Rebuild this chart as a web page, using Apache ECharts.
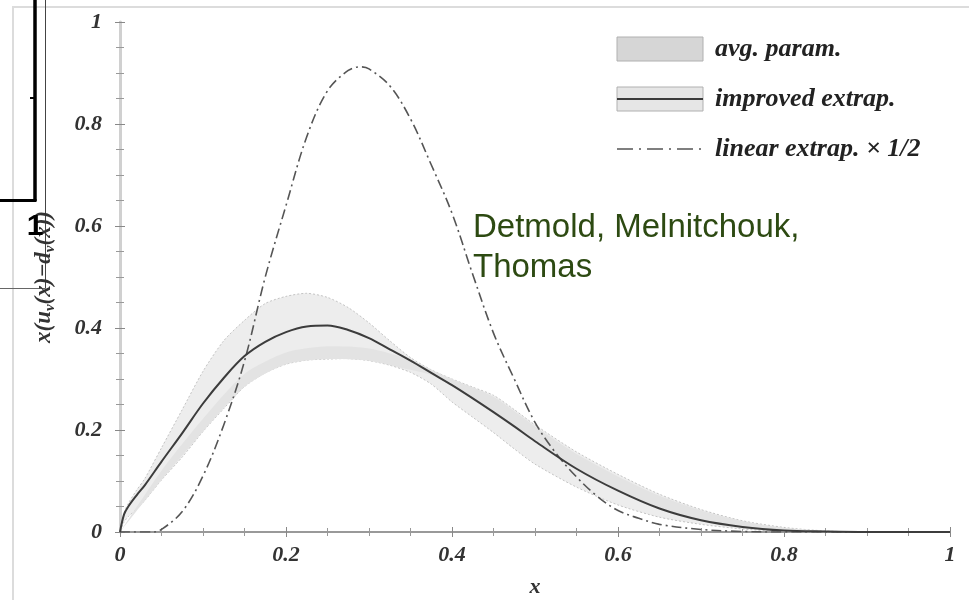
<!DOCTYPE html>
<html>
<head>
<meta charset="utf-8">
<script src="https://cdn.jsdelivr.net/npm/echarts@6/dist/echarts.min.js"></script>
<style>html,body{margin:0;padding:0;background:#fff}#c{width:969px;height:600px}</style>
</head>
<body>
<div id="c"></div>
<script>
// ---- data ----
const xs = [0, 0.005, 0.01, 0.02, 0.03, 0.05, 0.075, 0.1, 0.125, 0.15, 0.175, 0.2, 0.225, 0.25, 0.275, 0.3, 0.325, 0.35, 0.375, 0.4, 0.425, 0.45, 0.475, 0.5, 0.55, 0.6, 0.65, 0.7, 0.75, 0.8, 0.85, 0.9, 0.95, 1];
const improved = [0, 0.035, 0.05, 0.072, 0.092, 0.138, 0.194, 0.252, 0.302, 0.345, 0.373, 0.392, 0.403, 0.405, 0.396, 0.38, 0.358, 0.336, 0.312, 0.288, 0.262, 0.235, 0.207, 0.178, 0.124, 0.081, 0.046, 0.023, 0.01, 0.003, 0.001, 0, 0, 0];
const bandUpper = [0, 0.038, 0.056, 0.082, 0.105, 0.165, 0.24, 0.315, 0.375, 0.415, 0.448, 0.462, 0.468, 0.46, 0.44, 0.41, 0.375, 0.342, 0.318, 0.3, 0.284, 0.268, 0.24, 0.21, 0.157, 0.113, 0.074, 0.044, 0.022, 0.009, 0.002, 0, 0, 0];
const bandLower = [0, 0.02, 0.03, 0.045, 0.062, 0.102, 0.147, 0.197, 0.242, 0.285, 0.312, 0.329, 0.337, 0.339, 0.34, 0.336, 0.327, 0.313, 0.29, 0.255, 0.225, 0.195, 0.163, 0.133, 0.088, 0.053, 0.029, 0.015, 0.006, 0.001, 0, 0, 0, 0];

const avgX = [0, 0.05, 0.1, 0.15, 0.2, 0.25, 0.3, 0.35, 0.375, 0.4, 0.45, 0.5, 0.55, 0.6, 0.65, 0.7, 0.75, 0.8, 0.85];
const avgLower = [0, 0.102, 0.197, 0.285, 0.329, 0.339, 0.336, 0.318, 0.308, 0.288, 0.235, 0.178, 0.124, 0.081, 0.046, 0.023, 0.01, 0.003, 0];
const avgUpper = [0, 0.12, 0.222, 0.31, 0.352, 0.364, 0.36, 0.338, 0.318, 0.3, 0.265, 0.207, 0.153, 0.109, 0.071, 0.042, 0.021, 0.008, 0.002];

const linearX = [0, 0.04, 0.05, 0.075, 0.1, 0.125, 0.15, 0.175, 0.2, 0.225, 0.25, 0.275, 0.29, 0.3, 0.325, 0.35, 0.375, 0.4, 0.425, 0.45, 0.475, 0.5, 0.525, 0.55, 0.575, 0.6, 0.625, 0.65, 0.7, 0.75, 0.8, 0.9, 1];
const linearHalf = [0, 0, 0.005, 0.04, 0.11, 0.21, 0.335, 0.5, 0.64, 0.775, 0.865, 0.905, 0.912, 0.908, 0.875, 0.81, 0.72, 0.625, 0.505, 0.39, 0.3, 0.215, 0.155, 0.108, 0.07, 0.042, 0.027, 0.015, 0.005, 0.001, 0, 0, 0];

const legendNames = ['avg. param.', 'improved extrap.', 'linear extrap. \u00d7 1/2'];
const annotation = 'Detmold, Melnitchouk,\nThomas';

// ---- chart ----
const SERIF = '"Liberation Serif", "DejaVu Serif", serif';
const chart = echarts.init(document.getElementById('c'), null, {renderer: 'canvas'});

function band(name, bx, lo, hi, fill, stroke, z) {
  return {
    type: 'custom', name: name, silent: true, z: z,
    xAxisIndex: 0, yAxisIndex: 0,
    data: [[0.5, 0.5]],
    renderItem: function (params, api) {
      const pts = [];
      for (let i = 0; i < bx.length; i++) pts.push(api.coord([bx[i], hi[i]]));
      for (let i = bx.length - 1; i >= 0; i--) pts.push(api.coord([bx[i], lo[i]]));
      return {type: 'polygon', shape: {points: pts, smooth: 0.25},
        style: {fill: fill, stroke: stroke, lineWidth: 1, lineDash: [2, 2]}};
    }
  };
}

const labelStyle = {fontFamily: SERIF, fontStyle: 'italic', fontWeight: 'bold', fontSize: 22, color: '#333'};

function mainAxisCommon(extra) {
  return Object.assign({
    type: 'value', min: 0, max: 1, interval: 0.2,
    splitLine: {show: false},
    axisLine: {show: true, lineStyle: {color: '#7a7a7a', width: 1.5}},
    axisTick: {show: true, inside: true, length: 5, lineStyle: {color: '#888', width: 1}},
    minorTick: {show: true, splitNumber: 4, length: 4, lineStyle: {color: '#999', width: 1}},
    minorSplitLine: {show: false}
  }, extra);
}

const option = {
  backgroundColor: '#fff',
  animation: false,
  grid: {left: 120, right: 19, top: 22, bottom: 68, containLabel: false, outerBoundsMode: 'none'},
  xAxis: [
    mainAxisCommon({
      position: 'bottom',
      axisLabel: Object.assign({margin: 12, showMinLabel: true, showMaxLabel: true, hideOverlap: false}, labelStyle),
      name: 'x', nameLocation: 'middle', nameGap: 44,
      nameTextStyle: {fontFamily: SERIF, fontStyle: 'italic', fontWeight: 'bold', fontSize: 22, color: '#333'}
    }),
    mainAxisCommon({
      position: 'top',
      axisLine: {show: true, lineStyle: {color: '#999', width: 1.5}},
      axisLabel: {show: false}
    })
  ],
  yAxis: [
    mainAxisCommon({
      position: 'left',
      axisLabel: Object.assign({margin: 18, showMinLabel: true, showMaxLabel: true, hideOverlap: false}, labelStyle),
      name: 'x(u{s|v}(x)\u2212d{s|v}(x))', nameLocation: 'middle', nameGap: 62,
      nameTextStyle: {fontFamily: SERIF, fontStyle: 'italic', fontWeight: 'bold', fontSize: 23, color: '#333', lineHeight: 28,
        rich: {s: {fontFamily: SERIF, fontStyle: 'italic', fontWeight: 'bold', fontSize: 15, color: '#333', lineHeight: 14, verticalAlign: 'bottom'}}}
    }),
    mainAxisCommon({
      position: 'right',
      axisLine: {show: true, lineStyle: {color: '#d0d0d0', width: 3}},
      axisLabel: {show: false}
    })
  ],
  series: [
    band('improved extrap. band', xs, bandLower, bandUpper, '#ededed', '#c4c4c4', 1),
    band('avg. param.', avgX, avgLower, avgUpper, '#e3e3e3', 'rgba(0,0,0,0)', 2),
    {
      type: 'line', name: legendNames[2], xAxisIndex: 0, yAxisIndex: 0, z: 3,
      data: linearX.map((x, i) => [x, linearHalf[i]]),
      showSymbol: false, smooth: 0.35, silent: true,
      lineStyle: {color: '#555', width: 1.6, type: [10, 4, 2, 4]}
    },
    {
      type: 'line', name: legendNames[1], xAxisIndex: 0, yAxisIndex: 0, z: 4,
      data: xs.map((x, i) => [x, improved[i]]),
      showSymbol: false, smooth: 0.35, silent: true,
      lineStyle: {color: '#3c3c3c', width: 2}
    }
  ],
  graphic: [
    // scan frame
    {type: 'polyline', shape: {points: [[13, 600], [13, 7], [969, 7]]}, style: {stroke: '#dcdcdc', lineWidth: 2, fill: null}, silent: true},
    // slide artefacts on the left
    {type: 'line', shape: {x1: 35, y1: 0, x2: 35, y2: 201}, style: {stroke: '#000', lineWidth: 3.5}, silent: true},
    {type: 'line', shape: {x1: 0, y1: 200.5, x2: 36.5, y2: 200.5}, style: {stroke: '#000', lineWidth: 3}, silent: true},
    {type: 'line', shape: {x1: 30, y1: 98, x2: 35, y2: 98}, style: {stroke: '#000', lineWidth: 2}, silent: true},
    {type: 'line', shape: {x1: 45.5, y1: 0, x2: 45.5, y2: 288.5}, style: {stroke: '#444', lineWidth: 1}, silent: true},
    {type: 'line', shape: {x1: 0, y1: 288.5, x2: 45.5, y2: 288.5}, style: {stroke: '#666', lineWidth: 1}, silent: true},
    {type: 'text', x: 35, y: 227, z: 10, silent: true,
      style: {text: '1', fontFamily: '"Liberation Sans", Arial, sans-serif', fontWeight: 'bold', fontSize: 30, fill: '#000', align: 'center', verticalAlign: 'middle'}},
    // legend
    {type: 'rect', shape: {x: 617, y: 37, width: 86, height: 24}, style: {fill: '#d6d6d6', stroke: '#b0b0b0', lineWidth: 1}, silent: true},
    {type: 'rect', shape: {x: 617, y: 87, width: 86, height: 24}, style: {fill: '#e6e6e6', stroke: '#b0b0b0', lineWidth: 1}, silent: true},
    {type: 'line', shape: {x1: 617, y1: 99, x2: 703, y2: 99}, style: {stroke: '#3c3c3c', lineWidth: 2}, silent: true},
    {type: 'line', shape: {x1: 617, y1: 149, x2: 703, y2: 149}, style: {stroke: '#555', lineWidth: 1.6, lineDash: [16, 6, 2, 6]}, silent: true},
    {type: 'text', x: 715, y: 49, silent: true, style: {text: legendNames[0], fontFamily: SERIF, fontStyle: 'italic', fontWeight: 'bold', fontSize: 26, fill: '#222', verticalAlign: 'middle'}},
    {type: 'text', x: 715, y: 99, silent: true, style: {text: legendNames[1], fontFamily: SERIF, fontStyle: 'italic', fontWeight: 'bold', fontSize: 26, fill: '#222', verticalAlign: 'middle'}},
    {type: 'text', x: 715, y: 149, silent: true, style: {text: legendNames[2], fontFamily: SERIF, fontStyle: 'italic', fontWeight: 'bold', fontSize: 26, fill: '#222', verticalAlign: 'middle'}},
    // annotation
    {type: 'text', x: 473, y: 208, z: 10, silent: true,
      style: {text: annotation, fontFamily: '"Liberation Sans", Arial, sans-serif', fontSize: 33, lineHeight: 40, fill: '#2d4a12', verticalAlign: 'top'}}
  ]
};
chart.setOption(option);
</script>
</body>
</html>
